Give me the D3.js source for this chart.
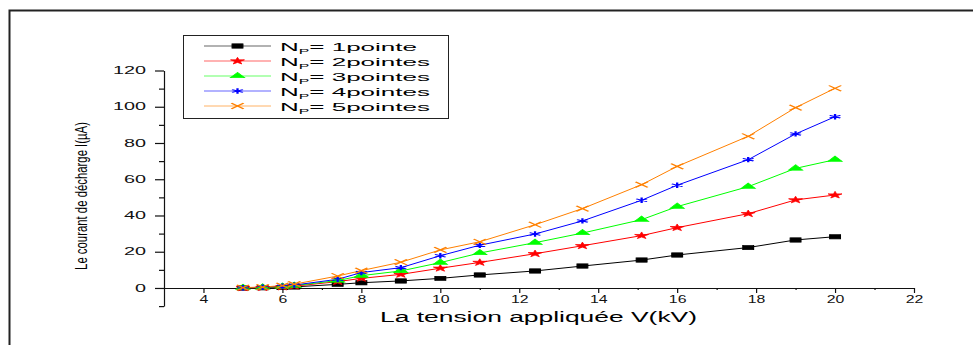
<!DOCTYPE html>
<html>
  <head>
    <meta charset="utf-8">
    <title>Courant de décharge</title>
    <script src="https://cdn.jsdelivr.net/npm/d3@7"></script>
    <style>
      body { margin: 0; background: #fff; }
      svg { display: block; font-family: "Liberation Sans", Arial, sans-serif; }
      .axis path, .axis line { stroke: #111; stroke-width: 1.2; }
      .axis text { fill: #111; }
    </style>
  </head>
  <body>
    <script>
    // tension appliquée (kV)
    const voltage = [5, 5.5, 6, 6.3, 7.4, 8, 9, 10, 11, 12.4, 13.6, 15.1, 16, 17.8, 19, 20];
    // courant de décharge (µA) par nombre de pointes
    const np1 = [0, 0.1, 0.3, 0.6, 2.0, 2.9, 3.9, 5.3, 7.2, 9.4, 12.1, 15.4, 18.2, 22.3, 26.5, 28.3];
    const np2 = [0.1, 0.2, 0.5, 1.0, 3.5, 5.3, 7.5, 10.9, 14.1, 18.9, 23.3, 28.9, 33.3, 41.0, 48.6, 51.3];
    const np3 = [0.1, 0.3, 0.8, 1.3, 4.1, 6.8, 9.4, 14.0, 19.3, 25.0, 30.3, 37.7, 44.9, 55.9, 66.0, 70.8];
    const np4 = [0.1, 0.4, 1.0, 1.6, 4.8, 8.5, 11.2, 17.8, 23.6, 29.8, 37.0, 48.4, 56.7, 70.8, 85.0, 94.5];
    const np5 = [0.2, 0.5, 1.3, 2.1, 6.6, 9.6, 14.2, 21.0, 25.5, 34.9, 43.8, 57.0, 67.1, 83.7, 99.5, 110.2];
    const seriesNames = ["1pointe", "2pointes", "3pointes", "4pointes", "5pointes"];
    const xTicks = [4, 6, 8, 10, 12, 14, 16, 18, 20, 22];
    const yTicks = [0, 20, 40, 60, 80, 100, 120];

    const width = 973, height = 345;

    // asterisk and x markers drawn by hand (older d3 builds lack them)
    const asterisk = {
      draw(ctx, size) {
        const r = Math.sqrt(size) * 0.6, t = r / 2, u = t * Math.sqrt(3);
        ctx.moveTo(0, r); ctx.lineTo(0, -r);
        ctx.moveTo(-u, -t); ctx.lineTo(u, t);
        ctx.moveTo(-u, t); ctx.lineTo(u, -t);
      }
    };
    const times = {
      draw(ctx, size) {
        const r = Math.sqrt(size) * 0.45;
        ctx.moveTo(r, r); ctx.lineTo(-r, -r);
        ctx.moveTo(r, -r); ctx.lineTo(-r, r);
      }
    };

    const series = [
      {values: np1, color: "#000000", type: d3.symbolSquare, size: 20, sx: 2.4, fill: true},
      {values: np2, color: "#ff0000", type: d3.symbolStar, size: 15, sx: 2.0, fill: true},
      {values: np3, color: "#00ff00", type: d3.symbolTriangle, size: 17, sx: 2.3, fill: true},
      {values: np4, color: "#0000ff", type: asterisk, size: 20, sx: 2.3, fill: false},
      {values: np5, color: "#ff8000", type: times, size: 38, sx: 2.2, fill: false}
    ];

    const svg = d3.select("body").append("svg")
      .attr("width", width)
      .attr("height", height);

    // outer frame (runs off the picture on the right and bottom)
    svg.append("rect")
      .attr("x", 9.5).attr("y", 10.5)
      .attr("width", 1000).attr("height", 400)
      .attr("fill", "none").attr("stroke", "#222").attr("stroke-width", 2);

    const x = d3.scaleLinear().domain([3, 22]).range([164, 914]);
    const y = d3.scaleLinear().domain([-10, 120]).range([306.1, 70.5]);

    // x axis sits on y = 0
    const xg = svg.append("g").attr("class", "axis")
      .attr("transform", "translate(0," + y(0) + ")")
      .call(d3.axisBottom(x).tickValues(xTicks).tickSize(5).tickSizeOuter(0).tickPadding(3));
    xg.selectAll("text")
      .attr("font-size", 10)
      .attr("textLength", d => String(d).length * 8.8)
      .attr("lengthAdjust", "spacingAndGlyphs");
    svg.append("g").attr("class", "axis")
      .attr("transform", "translate(0," + y(0) + ")")
      .call(d3.axisBottom(x).tickValues(d3.range(5, 22, 2)).tickSize(2).tickFormat(""))
      .select(".domain").remove();

    const yg = svg.append("g").attr("class", "axis")
      .attr("transform", "translate(164,0)")
      .call(d3.axisLeft(y).tickValues(yTicks).tickSize(9).tickSizeOuter(0).tickPadding(9));
    yg.selectAll("text")
      .attr("font-size", 10)
      .attr("textLength", d => String(d).length * 11)
      .attr("lengthAdjust", "spacingAndGlyphs");
    svg.append("g").attr("class", "axis")
      .attr("transform", "translate(164,0)")
      .call(d3.axisLeft(y).tickValues(d3.range(-10, 120, 20)).tickSize(5).tickFormat(""))
      .select(".domain").remove();

    // axis titles
    svg.append("text")
      .attr("x", 380).attr("y", 322)
      .attr("font-size", 14)
      .attr("textLength", 317).attr("lengthAdjust", "spacingAndGlyphs")
      .text("La tension appliquée V(kV)");

    // y title: squeezed along its length to the measured 148px
    const yTitle = svg.append("text")
      .attr("text-anchor", "middle")
      .attr("font-size", 16)
      .text("Le courant de décharge I(µA)");
    const k = 148 / yTitle.node().getComputedTextLength();
    yTitle.attr("transform", "translate(87,196) rotate(-90) scale(" + k + ",1)");

    const line = d3.line()
      .x((d, i) => x(voltage[i]))
      .y(d => y(d));

    function marker(sel, s) {
      sel.attr("d", d3.symbol().type(s.type).size(s.size)())
        .attr("fill", s.fill ? s.color : "none")
        .attr("stroke", s.color)
        .attr("stroke-width", s.fill ? 0.5 : 1);
    }

    series.forEach(s => {
      svg.append("path")
        .datum(s.values)
        .attr("fill", "none")
        .attr("stroke", s.color)
        .attr("stroke-width", 1)
        .attr("d", line);
    });
    series.forEach(s => {
      svg.append("g").selectAll("path")
        .data(s.values).enter()
        .append("path")
        .attr("transform", (d, i) => "translate(" + x(voltage[i]) + "," + y(d) + ") scale(" + s.sx + ",1)")
        .call(marker, s);
    });

    // legend
    const legend = svg.append("g");
    legend.append("rect")
      .attr("x", 183.5).attr("y", 35.5)
      .attr("width", 265).attr("height", 83)
      .attr("fill", "#fff").attr("stroke", "#222").attr("stroke-width", 1);

    series.forEach((s, i) => {
      const cy = 46 + i * 15;
      legend.append("line")
        .attr("x1", 204).attr("x2", 271)
        .attr("y1", cy).attr("y2", cy)
        .attr("stroke", s.color).attr("stroke-width", 1).attr("opacity", 0.6);
      legend.append("path")
        .attr("transform", "translate(237.5," + cy + ") scale(" + s.sx + ",1)")
        .call(marker, s);
      const t = legend.append("text")
        .attr("x", 280).attr("y", cy + 4.7)
        .attr("font-size", 11.5)
        .attr("textLength", i === 0 ? 137 : 150)
        .attr("lengthAdjust", "spacingAndGlyphs");
      t.append("tspan").text("N");
      t.append("tspan").attr("font-size", 7).attr("dy", 3.5).text("P");
      t.append("tspan").attr("dy", -3.5).text("= " + seriesNames[i]);
    });
    </script>
  </body>
</html>
